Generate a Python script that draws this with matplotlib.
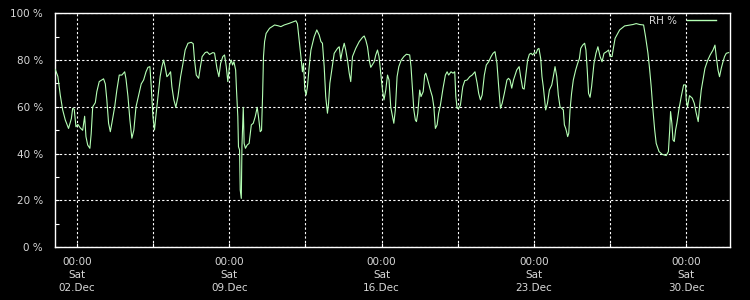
#!/usr/bin/env python3
"""Relative humidity over December, rrdtool-style dark chart."""

import datetime as dt

import matplotlib
matplotlib.use("Agg")
import matplotlib.dates as mdates
import matplotlib.pyplot as plt
from matplotlib.ticker import FixedLocator, FuncFormatter

# ── data: days since 2017-12-01 00:00 and relative humidity (%) ───

days = [
    0.00, 0.12, 0.23, 0.34, 0.46, 0.61, 0.74, 0.80, 0.87, 0.95, 1.04, 1.15, 1.26,
    1.35, 1.41, 1.49, 1.59, 1.65, 1.72, 1.84, 1.91, 2.02, 2.14, 2.22, 2.30, 2.37,
    2.45, 2.53, 2.60, 2.73, 2.83, 2.94, 3.06, 3.19, 3.25, 3.34, 3.43, 3.52, 3.61,
    3.71, 3.83, 3.95, 4.06, 4.17, 4.26, 4.35, 4.41, 4.49, 4.56, 4.62, 4.72, 4.82,
    4.90, 4.98, 5.05, 5.13,
    5.20, 5.30, 5.36, 5.45, 5.54, 5.64, 5.76, 5.87, 5.97, 6.10, 6.25, 6.34, 6.40,
    6.48, 6.59, 6.66, 6.75, 6.89, 6.98, 7.09, 7.24, 7.32, 7.43, 7.52, 7.60, 7.70,
    7.78, 7.86, 7.93, 8.01, 8.09, 8.15, 8.21, 8.29, 8.33, 8.39, 8.42, 8.47, 8.50,
    8.55, 8.58, 8.64, 8.68, 8.74, 8.82, 8.91, 9.01, 9.10, 9.19, 9.28, 9.34, 9.42,
    9.48, 9.53, 9.57, 9.62, 9.69, 9.85, 10.08, 10.23,
    10.37, 10.52, 10.75, 11.06, 11.13, 11.21, 11.29, 11.36, 11.41, 11.47, 11.53,
    11.59, 11.67, 11.75, 11.90, 12.02, 12.13, 12.21, 12.28, 12.36, 12.43, 12.51,
    12.56, 12.62, 12.74, 12.82, 12.97, 13.05, 13.12, 13.20, 13.28, 13.35, 13.43,
    13.51, 13.58, 13.66, 13.81, 13.97, 14.12, 14.20, 14.27, 14.35, 14.43, 14.50,
    14.66, 14.73, 14.81, 14.88, 14.96, 15.04, 15.11, 15.19, 15.27, 15.34, 15.42,
    15.50,
    15.56, 15.63, 15.71, 15.79, 15.90, 16.02, 16.14, 16.29, 16.35, 16.42, 16.48,
    16.55, 16.60, 16.66, 16.75, 16.81, 16.91, 16.98, 17.03, 17.12, 17.24, 17.33,
    17.40, 17.47, 17.55, 17.62, 17.70, 17.82, 17.93, 18.01, 18.08, 18.19, 18.28,
    18.36, 18.41, 18.47, 18.54, 18.62, 18.73, 18.82, 18.93, 19.05, 19.16, 19.29,
    19.39, 19.46, 19.54, 19.62, 19.72, 19.81, 19.92, 20.03, 20.12, 20.21, 20.30,
    20.38, 20.46, 20.54, 20.64, 20.76,
    20.83, 20.90, 20.98, 21.06, 21.21, 21.32, 21.39, 21.48, 21.55, 21.64, 21.71,
    21.79, 21.87, 21.94, 22.02, 22.10, 22.17, 22.23, 22.31, 22.37, 22.43, 22.49,
    22.54, 22.62, 22.71, 22.82, 22.89, 22.97, 23.05, 23.12, 23.20, 23.28, 23.35,
    23.40, 23.46, 23.50, 23.55, 23.60, 23.66, 23.73, 23.81, 23.92, 24.01, 24.09,
    24.15, 24.24, 24.33, 24.39, 24.45, 24.51, 24.58, 24.65, 24.76, 24.85, 24.94,
    25.04, 25.13, 25.22, 25.34, 25.43, 25.50, 25.59, 25.65, 25.73, 25.85,
    25.94, 26.17, 26.55, 26.70, 26.86, 27.04, 27.13, 27.24, 27.32, 27.39, 27.47,
    27.55, 27.62, 27.75, 27.90, 28.08, 28.18, 28.24, 28.28, 28.34, 28.39, 28.45,
    28.51, 28.57, 28.66, 28.77, 28.88, 28.97, 29.00, 29.06, 29.15, 29.28, 29.37,
    29.46, 29.55, 29.61, 29.69, 29.77, 29.86, 29.99, 30.10, 30.23, 30.32, 30.38,
    30.46, 30.53, 30.61, 30.69, 30.76, 30.84, 30.95,
]

rh = [
    76, 73, 65, 58.7, 54.4, 50.8, 55, 59.4, 59, 51.5, 52.5, 51, 50,
    56, 47.3, 43.7, 42.3, 48.5, 60, 61.8, 66.5, 70.8, 71.5, 72, 69.8, 63,
    53, 49.4, 53, 60, 67.2, 73.6, 73.6, 75, 72, 64.5, 54.4, 46.6, 50,
    60, 65, 69.8, 71.5, 75, 76.9, 77.2, 68.7, 55.8, 50.1, 55.8, 64.5, 72.9,
    77.2, 80, 77, 72.9,
    73.6, 75, 68.6, 63, 59.8, 64.5, 72.9, 78.6, 84.3, 87.2, 87.6, 87, 80,
    73.6, 72.2, 76.5, 81.5, 83.2, 83.5, 82.4, 83.2, 83, 76.5, 72.9, 78.6, 81.5,
    82.2, 77.2, 70.8, 77.9, 80, 77.9, 79.3, 75.8, 67.2, 55.8, 43, 41.6, 24.5,
    20.9, 43, 59.8, 44.4, 42.3, 43.7, 44.4, 52.3, 53, 55.8, 59.8, 55.8, 49.4,
    50, 65.3, 81.5, 87.9, 91.4, 93.6, 95, 94.7,
    94.3, 95, 95.7, 96.8, 95.5, 88.6, 81.5, 75, 78.6, 67.2, 65.1,
    68.6, 77.2, 84.3, 90, 92.9, 90.7, 87.9, 87.2, 77.2, 64.4, 57.3,
    61.5, 70.1, 77.9, 82.9, 85, 85.7, 80.3, 84.3, 87.2, 84.3, 80,
    74.4, 70.8, 81.5, 85, 87.9, 89.7, 90.3, 88.6, 85.7, 80, 76.9,
    79.3, 82.2, 84.3, 81.5, 74.4, 67.2, 63, 67.2, 73.6, 71.5, 59.8,
    55.8,
    53, 58.7, 72.9, 77.2, 80, 81.5, 82.5, 82.2, 77.2, 67.2, 58.7,
    54.4, 53.7, 57.3, 67.2, 64.4, 66.5, 73.6, 74.4, 71.5, 67.2, 64.4,
    60, 50.8, 52.3, 57.3, 60.7, 67.9, 73.6, 75, 73.6, 75, 74.4,
    75, 64.4, 59.4, 59.4, 60.7, 68.6, 71.2, 71.5, 72.9, 73.6, 75,
    70.1, 65.8, 63, 65.1, 73.6, 77.9, 79.3, 81.5, 82.9, 83.6, 78.6,
    68.6, 59.4, 61.5, 65.8, 71.5,
    72.2, 71.5, 68, 71.5, 75.8, 77.2, 72.9, 68, 67.6, 74.4, 80,
    82.5, 82.9, 82.2, 83.2, 82.9, 84.6, 85, 80.7, 72.9, 68.6, 63,
    58.7, 61.5, 67.2, 69.4, 72.9, 77.2, 72.9, 65.1, 60, 59.4, 58.7,
    52.3, 50.8, 49.4, 47.3, 48.7, 58.7, 65.8, 71.5, 75.8, 78.6, 80.7,
    85, 86.4, 87.2, 84.3, 75.8, 65.8, 64.1, 68.6, 78.6, 82.9, 85.7,
    81.5, 79.3, 82.9, 83.6, 84.3, 81.5, 81.5, 85, 89.3, 91.4,
    92.9, 94.6, 95.2, 95.6, 95.2, 95, 90, 83, 75.8, 68.6, 58.7,
    50.1, 44.4, 40.9, 39.7, 39.2, 40.9, 50.1, 58, 53, 45.9, 45.2,
    50.1, 53, 58.7, 64.4, 69.4, 69.4, 63, 60, 64.8, 63.7, 61.5,
    57.3, 53.7, 60, 67.2, 71.5, 76.5, 80, 82.2, 84.3, 86.4, 81.5,
    75.8, 72.9, 76.5, 79.3, 81.5, 82.9, 83.2,
]

START = dt.datetime(2017, 12, 1)
END = dt.datetime(2018, 1, 1)
label_days = [dt.datetime(2017, 12, d) for d in (2, 9, 16, 23, 30)]
half_days = [dt.datetime(2017, 12, d, 12) for d in (5, 12, 19, 26)]
y_major = [0, 20, 40, 60, 80, 100]
y_minor = [10, 30, 50, 70, 90]

BG = "#000000"
FG = "#ffffff"
TXT = "#d8d8d8"
LINE = "#b4ffb4"


def generate():
    times = [START + dt.timedelta(days=d) for d in days]

    fig = plt.figure(figsize=(7.5, 3.0), dpi=100)
    fig.patch.set_facecolor(BG)
    ax = fig.add_axes([0.0737, 0.1757, 0.8993, 0.78])
    ax.set_facecolor(BG)

    ax.plot(times, rh, color=LINE, lw=0.8, label="RH %", zorder=3)

    ax.set_xlim(START, END)
    ax.set_ylim(0, 100)

    # x axis: labels weekly, grid every 3.5 days
    ax.xaxis.set_major_locator(FixedLocator(mdates.date2num(label_days)))
    ax.xaxis.set_minor_locator(FixedLocator(mdates.date2num(half_days)))
    ax.xaxis.set_major_formatter(mdates.DateFormatter("%H:%M\n%a\n%d.%b"))

    ax.yaxis.set_major_locator(FixedLocator(y_major))
    ax.yaxis.set_minor_locator(FixedLocator(y_minor))
    ax.yaxis.set_major_formatter(FuncFormatter(lambda v, _: f"{v:.0f} %"))

    ax.grid(True, which="major", color=FG, lw=0.8, ls=(0, (2, 2)), zorder=1)
    ax.grid(True, which="minor", axis="x", color=FG, lw=0.8, ls=(0, (2, 2)), zorder=1)

    ax.tick_params(which="both", direction="in", color=FG, length=3, width=0.8)
    ax.tick_params(axis="y", labelsize=7.5, labelcolor=TXT, pad=9)
    ax.tick_params(axis="x", labelsize=7.5, labelcolor=TXT, pad=7)
    for lab in ax.get_xticklabels():
        lab.set_linespacing(1.35)

    for spine in ax.spines.values():
        spine.set_color(FG)
        spine.set_linewidth(1.0)

    leg = ax.legend(loc="upper right", bbox_to_anchor=(0.98, 0.99),
                    frameon=False, markerfirst=False, fontsize=7.5,
                    labelcolor=TXT, handlelength=2.8, handletextpad=1.0,
                    borderaxespad=0, borderpad=0)
    for h in leg.get_lines():
        h.set_linewidth(1.0)

    fig.savefig("out.png", dpi=100, facecolor=fig.get_facecolor())
    plt.close(fig)


if __name__ == "__main__":
    generate()
